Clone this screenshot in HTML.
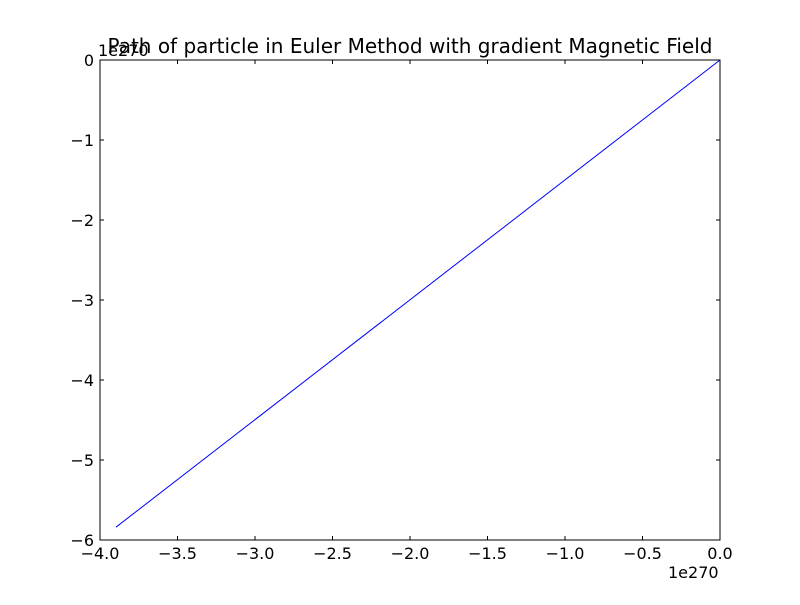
<!DOCTYPE html>
<html><head><meta charset="utf-8"><style>
body{margin:0;background:#fff;}
svg text{font-family:"DejaVu Sans","Liberation Sans",sans-serif;font-size:16px;fill:#000;}
</style></head><body>
<svg width="800" height="600" xmlns="http://www.w3.org/2000/svg">
<rect width="800" height="600" fill="#fff"/>
<g id="g"></g>
<text x="410" y="53" text-anchor="middle" style="font-size:20px">Path of particle in Euler Method with gradient Magnetic Field</text>
<text x="98" y="56">1e270</text>
<text x="668" y="578">1e270</text>
</svg>
<script>
const xTicks=[-4,-3.5,-3,-2.5,-2,-1.5,-1,-0.5,0];
const xTickLabels=["\u22124.0","\u22123.5","\u22123.0","\u22122.5","\u22122.0","\u22121.5","\u22121.0","\u22120.5","0.0"];
const yTicks=[-6,-5,-4,-3,-2,-1,0];
const yTickLabels=["\u22126","\u22125","\u22124","\u22123","\u22122","\u22121","0"];
const pathX=[-3.897,0];
const pathY=[-5.84,0];
const L=100,R=720,T=60,B=540;
const sx=v=>L+(v+4)/4*(R-L);
const sy=v=>T+(0-v)/6*(B-T);
const NS="http://www.w3.org/2000/svg";
const g=document.getElementById('g');
function mk(t,a){const e=document.createElementNS(NS,t);for(const k in a)e.setAttribute(k,a[k]);g.appendChild(e);return e;}
let pts=pathX.map((x,i)=>sx(x)+','+sy(pathY[i])).join(' ');
let line=mk('polyline',{points:pts,fill:'none',stroke:'#0000ff','stroke-width':1});


let fr=mk('rect',{x:L,y:T,width:R-L,height:B-T,fill:'none',stroke:'#000','stroke-width':1});


xTicks.forEach((v,i)=>{const x=sx(v);
mk('line',{x1:x,x2:x,y1:B,y2:B-4,stroke:'#000'});mk('line',{x1:x,x2:x,y1:T,y2:T+4,stroke:'#000'});
const t=mk('text',{x:x,y:B+19,'text-anchor':'middle'});t.textContent=xTickLabels[i];

});
yTicks.forEach((v,i)=>{const y=sy(v);
mk('line',{x1:L,x2:L+4,y1:y,y2:y,stroke:'#000'});mk('line',{x1:R,x2:R-4,y1:y,y2:y,stroke:'#000'});
const t=mk('text',{x:L-6,y:y+6,'text-anchor':'end'});t.textContent=yTickLabels[i];

});
</script>
</body></html>
